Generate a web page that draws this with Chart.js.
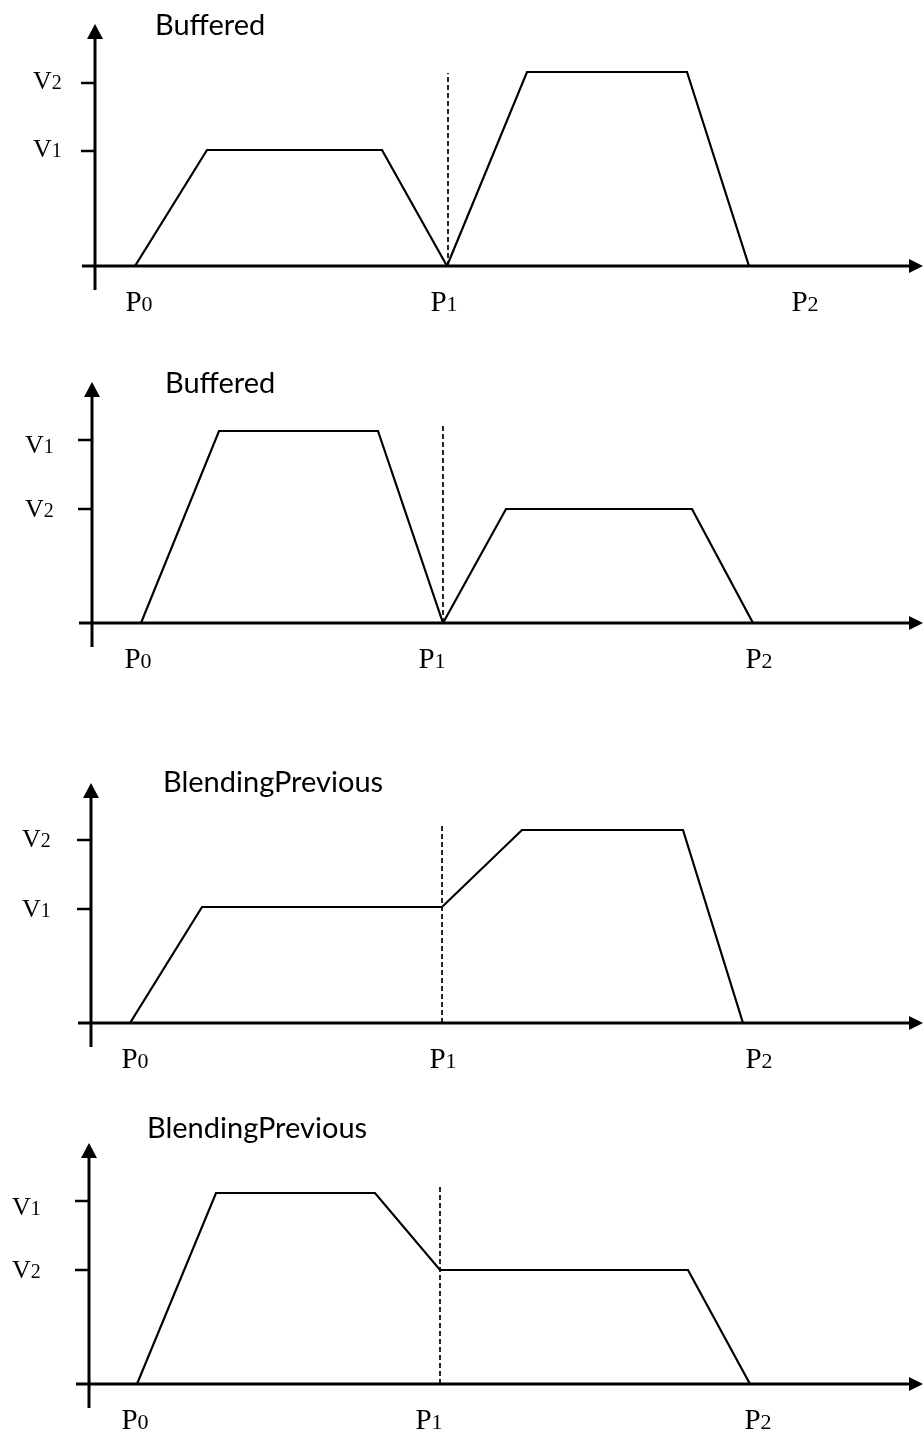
<!DOCTYPE html>
<html>
<head>
<meta charset="utf-8">
<script src="https://cdn.jsdelivr.net/npm/chart.js@4.4.1/dist/chart.umd.min.js"></script>
<style>
  html, body { margin: 0; padding: 0; background: #fff; }
  body { width: 924px; height: 1432px; position: relative; overflow: hidden; }
  canvas { position: absolute; left: 0; }
</style>
</head>
<body>
<canvas id="c1"></canvas>
<canvas id="c2"></canvas>
<canvas id="c3"></canvas>
<canvas id="c4"></canvas>
<script>
// titles of the four velocity profiles
var titles = ["Buffered", "Buffered", "BlendingPrevious", "BlendingPrevious"];

// position (x) and velocity (y) of each profile corner
var positions1 = [4.0, 11.2, 28.7, 35.2, 43.2, 59.2, 65.4];
var velocities1 = [0, 11.6, 11.6, 0, 19.4, 19.4, 0];
var positions2 = [4.9, 12.7, 28.6, 35.1, 41.4, 60.0, 66.1];
var velocities2 = [0, 19.2, 19.2, 0, 11.4, 11.4, 0];
var positions3 = [3.9, 11.1, 35.1, 43.1, 59.2, 65.2];
var velocities3 = [0, 11.6, 11.6, 19.3, 19.3, 0];
var positions4 = [4.8, 12.7, 28.6, 35.1, 59.9, 66.1];
var velocities4 = [0, 19.1, 19.1, 11.4, 11.4, 0];

// velocity ticks (V1, V2) on the y axis
var vTickLabels = ["V1", "V2"];
var vTicks1 = [11.5, 18.3];
var vTicks2 = [18.3, 11.4];
var vTicks3 = [11.4, 18.3];
var vTicks4 = [18.3, 11.4];

// position labels (P0, P1, P2) under the x axis
var pTickLabels = ["P0", "P1", "P2"];
var pTicks1 = [4.4, 34.9, 71.0];
var pTicks2 = [4.6, 34.0, 66.7];
var pTicks3 = [4.4, 35.2, 66.8];
var pTicks4 = [4.6, 34.0, 66.9];

// dashed marker at P1 : x and top
var markerX = [35.3, 35.1, 35.1, 35.1];
var markerTop = [19.3, 20.0, 20.0, 19.9];

// axis ranges
var xMax = [82.8, 83.1, 83.2, 83.4];
var yMax = [24.2, 24.1, 24.0, 24.1];

// page layout (pixels)
var layouts = [
  { top: 0,    h: 330, pad: { left: 95, right: 1, top: 24, bottom: 64 }, titleX: 155, titleY: 35, vLabelX: 33, vDy: [6, 6] },
  { top: 350,  h: 350, pad: { left: 92, right: 1, top: 32, bottom: 77 }, titleX: 165, titleY: 43, vLabelX: 25, vDy: [13, 8] },
  { top: 750,  h: 350, pad: { left: 91, right: 1, top: 33, bottom: 77 }, titleX: 163, titleY: 42, vLabelX: 22, vDy: [8, 7] },
  { top: 1100, h: 332, pad: { left: 89, right: 1, top: 43, bottom: 48 }, titleX: 147, titleY: 38, vLabelX: 12, vDy: [14, 8] }
];

var serif = '"Liberation Serif", "DejaVu Serif", serif';

// letter + smaller digit, same baseline
function drawSub(ctx, text, x, y, big, small, center) {
  var a = text.charAt(0), b = text.slice(1);
  ctx.font = big + 'px ' + serif;
  var wa = ctx.measureText(a).width;
  ctx.font = small + 'px ' + serif;
  var wb = ctx.measureText(b).width;
  var left = center ? x - (wa + wb) / 2 : x;
  ctx.textAlign = 'left';
  ctx.textBaseline = 'alphabetic';
  ctx.font = big + 'px ' + serif;
  ctx.fillText(a, left, y);
  ctx.font = small + 'px ' + serif;
  ctx.fillText(b, left + wa, y);
}

function makePlugin(i, vTicks, pTicks) {
  var lay = layouts[i];
  return {
    id: 'diagram' + i,
    beforeDatasetsDraw: function(chart) {
      var ctx = chart.ctx, xs = chart.scales.x, ys = chart.scales.y;
      var ox = xs.getPixelForValue(0), oy = ys.getPixelForValue(0);
      var tipX = xs.getPixelForValue(xs.max), topY = ys.getPixelForValue(ys.max);
      ctx.save();
      ctx.strokeStyle = '#000';
      ctx.fillStyle = '#000';
      ctx.lineWidth = 3;
      // x axis
      ctx.beginPath();
      ctx.moveTo(ox - 13, oy);
      ctx.lineTo(tipX - 10, oy);
      ctx.stroke();
      ctx.beginPath();
      ctx.moveTo(tipX, oy);
      ctx.lineTo(tipX - 14, oy - 7);
      ctx.lineTo(tipX - 14, oy + 7);
      ctx.closePath();
      ctx.fill();
      // y axis
      ctx.beginPath();
      ctx.moveTo(ox, oy + 24);
      ctx.lineTo(ox, topY + 10);
      ctx.stroke();
      ctx.beginPath();
      ctx.moveTo(ox, topY);
      ctx.lineTo(ox - 8, topY + 15);
      ctx.lineTo(ox + 8, topY + 15);
      ctx.closePath();
      ctx.fill();
      // tick marks
      ctx.lineWidth = 2.5;
      vTicks.forEach(function(v) {
        var py = ys.getPixelForValue(v);
        ctx.beginPath();
        ctx.moveTo(ox - 14, py);
        ctx.lineTo(ox, py);
        ctx.stroke();
      });
      ctx.restore();
    },
    afterDraw: function(chart) {
      var ctx = chart.ctx, xs = chart.scales.x, ys = chart.scales.y;
      var oy = ys.getPixelForValue(0);
      ctx.save();
      ctx.fillStyle = '#000';
      vTicks.forEach(function(v, k) {
        drawSub(ctx, vTickLabels[k], lay.vLabelX, ys.getPixelForValue(v) + lay.vDy[k], 26, 20, false);
      });
      pTicks.forEach(function(p, k) {
        drawSub(ctx, pTickLabels[k], xs.getPixelForValue(p), oy + 45, 29, 22, true);
      });
      ctx.font = '29px Lato, "Open Sans", sans-serif';
      ctx.textAlign = 'left';
      ctx.textBaseline = 'alphabetic';
      ctx.fillText(titles[i], lay.titleX, lay.titleY);
      ctx.restore();
    }
  };
}

function buildChart(i, positions, velocities, vTicks, pTicks) {
  var lay = layouts[i];
  var canvas = document.getElementById('c' + (i + 1));
  canvas.width = 924;
  canvas.height = lay.h;
  canvas.style.width = '924px';
  canvas.style.height = lay.h + 'px';
  canvas.style.top = lay.top + 'px';

  var profile = positions.map(function(x, k) { return { x: x, y: velocities[k] }; });

  new Chart(canvas, {
    type: 'line',
    data: {
      datasets: [{
        data: profile,
        borderColor: '#000',
        borderWidth: 2.2,
        pointRadius: 0,
        tension: 0,
        fill: false
      }, {
        data: [{ x: markerX[i], y: 0 }, { x: markerX[i], y: markerTop[i] }],
        borderColor: '#000',
        borderWidth: 1.7,
        borderDash: [5, 3],
        pointRadius: 0,
        fill: false
      }]
    },
    options: {
      responsive: false,
      animation: false,
      devicePixelRatio: 1,
      events: [],
      layout: { padding: lay.pad },
      scales: {
        x: { type: 'linear', min: 0, max: xMax[i], display: false },
        y: { type: 'linear', min: 0, max: yMax[i], display: false }
      },
      plugins: {
        legend: { display: false },
        tooltip: { enabled: false }
      }
    },
    plugins: [makePlugin(i, vTicks, pTicks)]
  });
}

buildChart(0, positions1, velocities1, vTicks1, pTicks1);
buildChart(1, positions2, velocities2, vTicks2, pTicks2);
buildChart(2, positions3, velocities3, vTicks3, pTicks3);
buildChart(3, positions4, velocities4, vTicks4, pTicks4);
</script>
</body>
</html>
